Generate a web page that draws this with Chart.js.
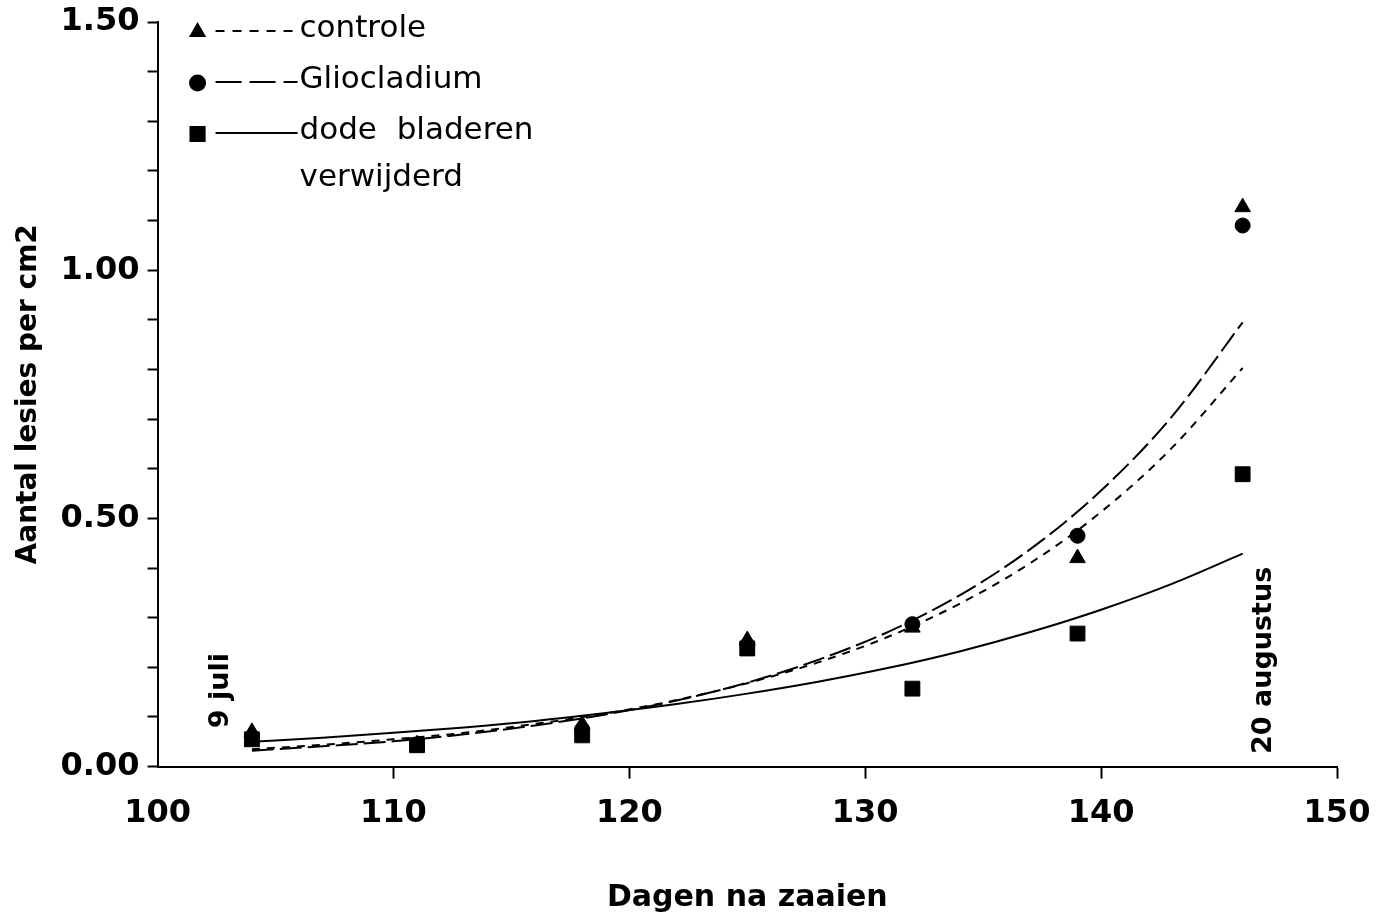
<!DOCTYPE html>
<html>
<head>
<meta charset="utf-8">
<script src="https://cdn.jsdelivr.net/npm/chart.js@4/dist/chart.umd.min.js"></script>
<style>
  html, body { margin: 0; padding: 0; background: #fff; }
  #wrap { width: 1379px; height: 923px; position: relative; }
</style>
</head>
<body>
<div id="wrap"><canvas id="chart"></canvas></div>
<script>
// measured days (dagen na zaaien)
const days = [104, 111, 118, 125, 132, 139, 146];
const controlePts = [0.07, 0.045, 0.085, 0.255, 0.28, 0.42, 1.127];
const glioPts = [0.06, 0.045, 0.075, 0.245, 0.287, 0.465, 1.09];
const dodePts = [0.055, 0.043, 0.063, 0.238, 0.157, 0.268, 0.589];

// fitted curves
const curveDays = [104, 107, 110, 113, 116, 119, 122, 125, 128, 131, 134, 137, 140, 143, 146];
const controleCurve = [0.035, 0.044, 0.055, 0.068, 0.086, 0.107, 0.134, 0.168, 0.210, 0.262, 0.328, 0.410, 0.513, 0.642, 0.803];
const glioCurve = [0.032, 0.041, 0.051, 0.065, 0.083, 0.105, 0.133, 0.169, 0.215, 0.272, 0.345, 0.438, 0.556, 0.705, 0.895];
const dodeCurve = [0.050, 0.058, 0.068, 0.079, 0.092, 0.108, 0.126, 0.147, 0.171, 0.199, 0.232, 0.271, 0.316, 0.368, 0.429];

const xTicks = [100, 110, 120, 130, 140, 150];
const yLabels = [0, 0.5, 1.0, 1.5];

const FONT = "'DejaVu Sans', sans-serif";

function pairs(xs, ys) {
    return xs.map((x, i) => ({ x: x, y: ys[i] }));
}

function curveSet(label, xs, ys, dash) {
    return {
        label: label,
        data: pairs(xs, ys),
        showLine: true,
        borderColor: '#000',
        borderWidth: 2,
        borderDash: dash,
        pointRadius: 0,
        cubicInterpolationMode: 'monotone',
        fill: false
    };
}

function pointSet(label, ys, style, radius) {
    return {
        label: label,
        data: pairs(days, ys),
        showLine: false,
        pointStyle: style,
        pointRadius: radius,
        pointBackgroundColor: '#000',
        pointBorderColor: '#000',
        pointBorderWidth: 1
    };
}

// legend box top-left and the two date notes
const notesPlugin = {
    id: 'notes',
    afterDatasetsDraw(chart) {
        const ctx = chart.ctx;
        const xs = chart.scales.x, ys = chart.scales.y;
        const left = chart.chartArea.left;
        ctx.save();
        ctx.fillStyle = '#000';
        ctx.strokeStyle = '#000';
        ctx.lineWidth = 2;

        const rows = [
            { y: 31, style: 'triangle', r: 8, dash: [9, 8], text: 'controle' },
            { y: 82, style: 'circle', r: 7.5, dash: [26, 8], text: 'Gliocladium' },
            { y: 133, style: 'rect', r: 10, dash: [], text: 'dode  bladeren' }
        ];
        rows.forEach(r => {
            const mx = left + 40;
            Chart.helpers.drawPoint(ctx, { pointStyle: r.style, radius: r.r, borderWidth: 1 }, mx, r.y + 1);
            ctx.beginPath();
            ctx.setLineDash(r.dash);
            ctx.moveTo(left + 58, r.y);
            ctx.lineTo(left + 140, r.y);
            ctx.stroke();
            ctx.setLineDash([]);
            ctx.font = '31px ' + FONT;
            ctx.textBaseline = 'middle';
            ctx.textAlign = 'left';
            ctx.fillText(r.text, left + 142, r.y - 2);
        });
        ctx.fillText('verwijderd', left + 142, 178);

        // rotated date notes
        ctx.font = 'bold 27px ' + FONT;
        ctx.textAlign = 'center';
        ctx.textBaseline = 'middle';
        [[102.7, 0.153, '9 juli'], [146.9, 0.214, '20 augustus']].forEach(n => {
            ctx.save();
            ctx.translate(xs.getPixelForValue(n[0]), ys.getPixelForValue(n[1]));
            ctx.rotate(-Math.PI / 2);
            ctx.fillText(n[2], 0, 0);
            ctx.restore();
        });
        ctx.restore();
    }
};

new Chart(document.getElementById('chart'), {
    type: 'scatter',
    data: {
        datasets: [
            curveSet('controle fit', curveDays, controleCurve, [8, 7]),
            curveSet('Gliocladium fit', curveDays, glioCurve, [22, 6]),
            curveSet('dode bladeren fit', curveDays, dodeCurve, []),
            pointSet('controle', controlePts, 'triangle', 9),
            pointSet('Gliocladium', glioPts, 'circle', 7.5),
            pointSet('dode bladeren verwijderd', dodePts, 'rect', 10.5)
        ]
    },
    options: {
        responsive: true,
        maintainAspectRatio: false,
        animation: false,
        layout: { padding: { top: 0, right: 0, bottom: 7, left: 0 } },
        plugins: {
            legend: { display: false },
            tooltip: { enabled: false }
        },
        scales: {
            x: {
                type: 'linear',
                min: 100,
                max: 150,
                afterBuildTicks: axis => { axis.ticks = xTicks.map(v => ({ value: v })); },
                afterFit: axis => { axis.paddingRight = 42; },
                ticks: {
                    color: '#000',
                    font: { family: FONT, size: 32, weight: 'bold' },
                    padding: 16,
                    maxRotation: 0
                },
                grid: {
                    drawOnChartArea: false,
                    tickLength: 12,
                    tickWidth: 2,
                    tickColor: c => (c.tick && c.tick.value === 100) ? 'rgba(0,0,0,0)' : '#000'
                },
                border: { color: '#000', width: 2 },
                title: {
                    display: true,
                    text: 'Dagen na zaaien',
                    color: '#000',
                    font: { family: FONT, size: 30, weight: 'bold' },
                    padding: { top: 31, bottom: 0 }
                }
            },
            y: {
                min: 0,
                max: 1.5,
                afterFit: axis => { axis.paddingTop = 22; },
                ticks: {
                    stepSize: 0.1,
                    autoSkip: false,
                    color: '#000',
                    font: { family: FONT, size: 32, weight: 'bold' },
                    padding: 8,
                    callback: v => yLabels.some(l => Math.abs(l - v) < 1e-6) ? v.toFixed(2) : ''
                },
                grid: {
                    drawOnChartArea: false,
                    tickLength: 10,
                    tickWidth: 2,
                    tickColor: '#000'
                },
                border: { color: '#000', width: 2 },
                title: {
                    display: true,
                    text: 'Aantal lesies per cm2',
                    color: '#000',
                    font: { family: FONT, size: 28, weight: 'bold' },
                    padding: { top: 12, bottom: 7 }
                }
            }
        }
    },
    plugins: [notesPlugin]
});
</script>
</body>
</html>
